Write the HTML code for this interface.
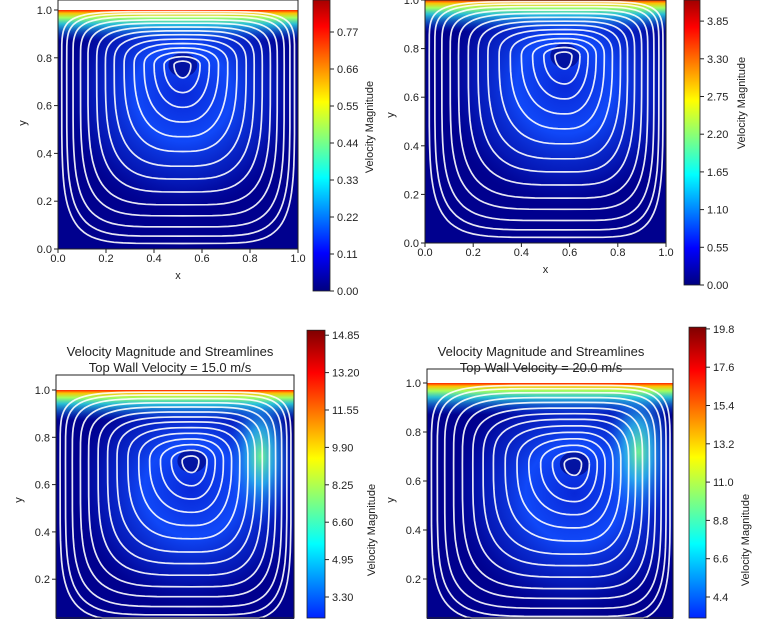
<!DOCTYPE html>
<html><head><meta charset="utf-8"><style>
html,body{margin:0;padding:0;background:#fff;width:768px;height:619px;overflow:hidden}
svg{display:block;font-family:"Liberation Sans",sans-serif}
</style></head><body>
<svg id="fig" width="768" height="619" viewBox="0 0 768 619">
<defs>
<linearGradient id="jet" x1="0" y1="1" x2="0" y2="0">
<stop offset="0" stop-color="#00007f"/><stop offset="0.125" stop-color="#0000ff"/><stop offset="0.375" stop-color="#00ffff"/><stop offset="0.625" stop-color="#ffff00"/><stop offset="0.875" stop-color="#ff0000"/><stop offset="1" stop-color="#7f0000"/>
</linearGradient>
<linearGradient id="lid" x1="0" y1="0" x2="0" y2="1">
<stop offset="0" stop-color="#ff2000"/><stop offset="0.1" stop-color="#ffc000"/><stop offset="0.25" stop-color="#a0ff60"/><stop offset="0.45" stop-color="#30e0e0" stop-opacity="0.85"/><stop offset="1" stop-color="#1060ff" stop-opacity="0"/>
</linearGradient>
<radialGradient id="core" cx="0.5" cy="0.5" r="0.5">
<stop offset="0" stop-color="#0828d8"/><stop offset="0.4" stop-color="#1048f8"/><stop offset="0.75" stop-color="#0828d0" stop-opacity="0.6"/><stop offset="1" stop-color="#0010b0" stop-opacity="0"/>
</radialGradient>
<radialGradient id="glow" cx="0.5" cy="0.5" r="0.5">
<stop offset="0" stop-color="#70f090"/><stop offset="0.4" stop-color="#30c8f0" stop-opacity="0.75"/><stop offset="1" stop-color="#1060ff" stop-opacity="0"/>
</radialGradient>
</defs>
</svg>
<script>
// ---- data arrays ----
const xTicks = [0.0, 0.2, 0.4, 0.6, 0.8, 1.0];
const yTicks = [0.0, 0.2, 0.4, 0.6, 0.8, 1.0];
const cb1Ticks = [0.00, 0.11, 0.22, 0.33, 0.44, 0.55, 0.66, 0.77];
const cb2Ticks = [0.00, 0.55, 1.10, 1.65, 2.20, 2.75, 3.30, 3.85];
const cb3Ticks = [3.30, 4.95, 6.60, 8.25, 9.90, 11.55, 13.20, 14.85];
const cb4Ticks = [4.4, 6.6, 8.8, 11.0, 13.2, 15.4, 17.6, 19.8];
const cb1Max = 0.9, cb2Max = 4.3, cb3Max = 15.07, cb4Max = 19.9;
const cb3Min = 0.0, cb4Min = 0.0;
const lidSpeeds = [null, null, 15.0, 20.0];
const vortexX = [0.52, 0.58, 0.57, 0.60];
const vortexY = [0.77, 0.77, 0.70, 0.67];
const ringLevels = [0.07,0.15,0.23,0.31,0.39,0.47,0.55,0.62,0.69,0.76,0.82,0.88,0.93,0.97];

const NS='http://www.w3.org/2000/svg';
const svg=document.getElementById('fig');
function mk(tag,attrs,parent){const e=document.createElementNS(NS,tag);for(const k in attrs)e.setAttribute(k,attrs[k]);(parent||svg).appendChild(e);return e;}
function txt(s,x,y,anchor,size,parent,rot){const t=mk('text',{x:x,y:y,'text-anchor':anchor,'font-size':size,fill:'#222'},parent);if(rot)t.setAttribute('transform','rotate(-90 '+x+' '+y+')');t.textContent=s;return t;}

const panels=[
 {x0:58,x1:298,yA:249,yB:10,top:0,cbx:313,cbw:17,cbY0:291,cbPer:37/0.11,cbMin:0,cbMax:cb1Max,ticks:cb1Ticks,dec:2,xl:true,xtY:262,xlY:279,ylX:26,ylY:123,cbl:[369,127],title:null,glow:false},
 {x0:425,x1:666,yA:243,yB:0,top:0,cbx:684,cbw:16,cbY0:285,cbPer:37.7/0.55,cbMin:0,cbMax:cb2Max,ticks:cb2Ticks,dec:2,xl:true,xtY:256,xlY:273,ylX:394,ylY:115,cbl:[741,103],title:null,glow:false},
 {x0:56,x1:294,yA:626.5,yB:390,top:375,cbx:307,cbw:18,cbY0:597+3.30/1.65*37.4,cbPer:37.4/1.65,cbMin:cb3Min,cbMax:cb3Max,ticks:cb3Ticks,dec:2,xl:false,ylX:22,ylY:500,cbl:[371,530],title:[170,356],glow:true},
 {x0:427,x1:673,yA:628,yB:383,top:369,cbx:689,cbw:17,cbY0:597+4.4/2.2*38.3,cbPer:38.3/2.2,cbMin:cb4Min,cbMax:cb4Max,ticks:cb4Ticks,dec:1,xl:false,ylX:394,ylY:500,cbl:[745,540],title:[541,356],glow:true}
];

panels.forEach((p,i)=>{
 const g=mk('g',{});
 
 
 const X=v=>p.x0+v*(p.x1-p.x0);
 const Y=v=>p.yA+v*(p.yB-p.yA);
 const C=v=>p.cbY0-v*p.cbPer;
 const w=p.x1-p.x0, h=p.yA-p.yB;
 const visB=Math.min(p.yA,619);
 const vh=visB-p.yB;
 const cid='clip'+i;
 const cp=mk('clipPath',{id:cid},g);mk('rect',{x:p.x0,y:p.yB,width:w,height:vh},cp);
 const field=mk('g',{'clip-path':'url(#'+cid+')'},g);
 
 
 mk('rect',{x:p.x0,y:p.yB,width:w,height:vh,fill:'#00008e'},field);
 const cx=vortexX[i],cy=vortexY[i];
 mk('ellipse',{cx:X(cx),cy:Y(cy-0.12),rx:w*0.5,ry:h*0.5,fill:'url(#core)'},field);
 if(p.glow){mk('ellipse',{cx:X(0.86),cy:Y(0.72),rx:w*0.14,ry:h*0.3,fill:'url(#glow)'},field);}
 mk('rect',{x:p.x0,y:p.yB,width:w,height:h*0.13,fill:'url(#lid)'},field);
 mk('ellipse',{cx:X(cx),cy:Y(cy),rx:w*0.06,ry:h*0.05,fill:'#00078a',opacity:0.75},field);
 const L=cx,R=1-cx,T=1-cy,B=cy;
 ringLevels.forEach((s,k)=>{
  const n=2+s*s*4;
  let d='';
  for(let j=0;j<=96;j++){
   const a=j/96*Math.PI*2,c=Math.cos(a),sn=Math.sin(a);
   const ex=Math.sign(c)*Math.pow(Math.abs(c),2/n),ey=Math.sign(sn)*Math.pow(Math.abs(sn),2/n);
   const vx=cx+ex*(c>0?R:L)*s, vy=cy+ey*(sn>0?T:B)*s;
   const py=Math.min(Y(vy),618);
   d+=(j?'L':'M')+X(vx).toFixed(1)+' '+py.toFixed(1);
  }
  const sl=mk('path',{d:d,fill:'none',stroke:'#fff','stroke-width':1.7,opacity:0.9},field);
  
  
 });
 const frame=mk('rect',{x:p.x0,y:p.top,width:w,height:Math.min(p.yA,618)-p.top,fill:'none',stroke:'#222','stroke-width':1},g);
 
 
 yTicks.forEach(v=>{const y=Y(v);if(y>612||y<-2)return;
  mk('line',{x1:p.x0-4,y1:y,x2:p.x0,y2:y,stroke:'#222'},g);
  const t=txt(v.toFixed(1),p.x0-6,y+4,'end',11,g);
  
  });
 const yl=txt('y',p.ylX,p.ylY,'middle',11,g,true);
 
 
 if(p.xl){
  xTicks.forEach(v=>{const x=X(v);mk('line',{x1:x,y1:p.yA,x2:x,y2:p.yA+4,stroke:'#222'},g);
   const t=txt(v.toFixed(1),x,p.xtY,'middle',11,g);
   
   });
  const xl=txt('x',(p.x0+p.x1)/2,p.xlY,'middle',11,g);
  
  
 }
 if(p.title){
  const t1=txt('Velocity Magnitude and Streamlines',p.title[0],p.title[1],'middle',13,g);
  
  
  const t2=txt('Top Wall Velocity = '+lidSpeeds[i].toFixed(1)+' m/s',p.title[0],p.title[1]+16,'middle',13,g);
  
  
 }
 const cTop=Math.max(0,C(p.cbMax)),cBot=Math.min(618,C(p.cbMin));
 const gradTop=C(p.cbMax),gradBot=C(p.cbMin);
 const lg=mk('linearGradient',{id:'jet'+i,gradientUnits:'userSpaceOnUse',x1:0,y1:gradBot,x2:0,y2:gradTop},g);
 [['0','#00007f'],['0.125','#0000ff'],['0.375','#00ffff'],['0.625','#ffff00'],['0.875','#ff0000'],['1','#7f0000']].forEach(s=>mk('stop',{offset:s[0],'stop-color':s[1]},lg));
 const cb=mk('rect',{x:p.cbx,y:cTop,width:p.cbw,height:cBot-cTop,fill:'url(#jet'+i+')',stroke:'#222','stroke-width':0.8},g);
 
 
 p.ticks.forEach(v=>{const y=C(v);
  mk('line',{x1:p.cbx+p.cbw,y1:y,x2:p.cbx+p.cbw+4,y2:y,stroke:'#222'},g);
  const t=txt(v.toFixed(p.dec),p.cbx+p.cbw+7,y+4,'start',11,g);
  
  });
 const cl=txt('Velocity Magnitude',p.cbl[0]+4,p.cbl[1],'middle',11,g,true);
 
 
});
</script>
</body></html>
